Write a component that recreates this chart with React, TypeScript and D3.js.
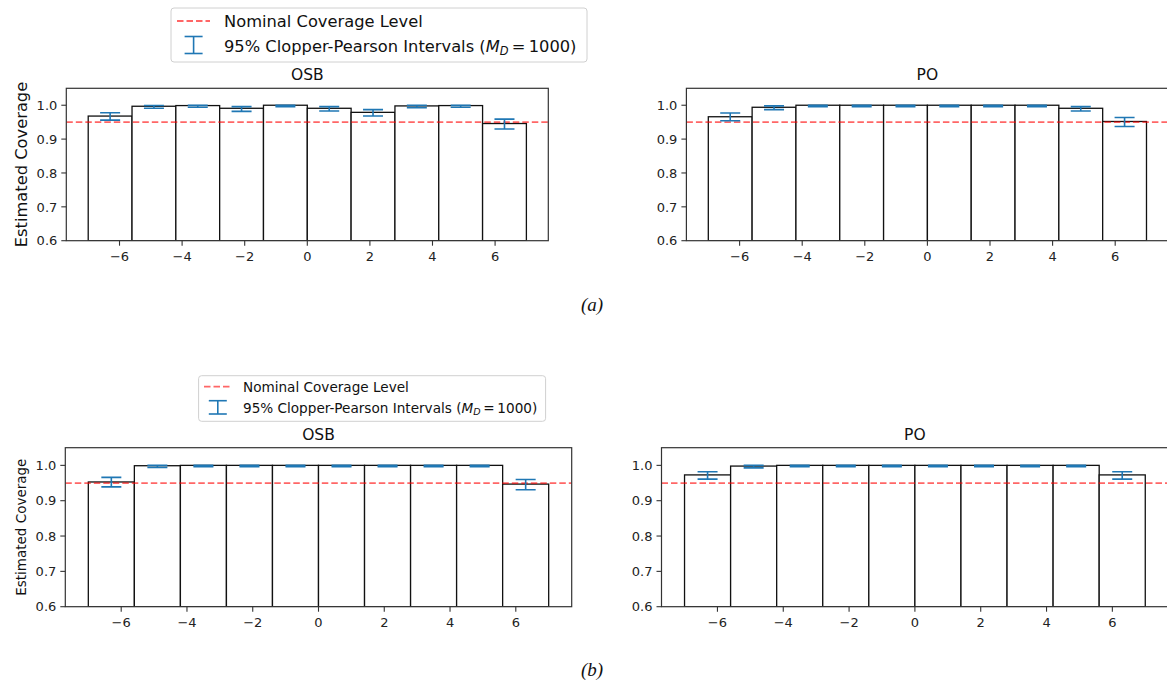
import React from "react";
import { scaleLinear } from "d3";

// bin edges of the histogram (shared by all four panels)
const binEdges = [-7, -5.6, -4.2, -2.8, -1.4, 0, 1.4, 2.8, 4.2, 5.6, 7];
const xTicks = [-6, -4, -2, 0, 2, 4, 6];
const yTicks = [0.6, 0.7, 0.8, 0.9, 1.0];
const nominal = 0.95;

// (a) OSB
const osbA = [0.968, 0.997, 0.999, 0.991, 1.0, 0.991, 0.979, 0.998, 0.999, 0.946];
const osbALow = [0.956, 0.991, 0.994, 0.982, 0.996, 0.983, 0.968, 0.993, 0.994, 0.930];
const osbAHigh = [0.978, 0.999, 1.0, 0.996, 1.0, 0.996, 0.987, 1.0, 1.0, 0.959];
// (a) PO
const poA = [0.966, 0.994, 1.0, 1.0, 1.0, 1.0, 1.0, 1.0, 0.991, 0.952];
const poALow = [0.954, 0.987, 0.996, 0.996, 0.996, 0.996, 0.996, 0.996, 0.983, 0.937];
const poAHigh = [0.977, 0.998, 1.0, 1.0, 1.0, 1.0, 1.0, 1.0, 0.996, 0.964];
// (b) OSB
const osbB = [0.953, 0.999, 1.0, 1.0, 1.0, 1.0, 1.0, 1.0, 1.0, 0.947];
const osbBLow = [0.939, 0.994, 0.996, 0.996, 0.996, 0.996, 0.996, 0.996, 0.996, 0.931];
const osbBHigh = [0.966, 1.0, 1.0, 1.0, 1.0, 1.0, 1.0, 1.0, 1.0, 0.960];
// (b) PO
const poB = [0.973, 0.998, 1.0, 1.0, 1.0, 1.0, 1.0, 1.0, 1.0, 0.973];
const poBLow = [0.961, 0.993, 0.996, 0.996, 0.996, 0.996, 0.996, 0.996, 0.996, 0.961];
const poBHigh = [0.982, 1.0, 1.0, 1.0, 1.0, 1.0, 1.0, 1.0, 1.0, 0.982];

const FONT = "DejaVu Sans, sans-serif";
const BLUE = "#1f77b4";

function Panel({ id, left, right, top, bottom, title, values, low, high, tickSize, ylabel, ylabelSize }) {
  const x = scaleLinear().domain([-7.7, 7.7]).range([left, right]);
  const y = scaleLinear().domain([0.6, 1.05]).range([bottom, top]);
  const capHalf = 10;
  return (
    <g>
      <defs>
        <clipPath id={id}>
          <rect x={left} y={top} width={right - left} height={bottom - top} />
        </clipPath>
      </defs>
      <text x={(left + right) / 2} y={top - 8} textAnchor="middle" fontSize={15.5} fill="#111">
        {title}
      </text>
      {ylabel && (
        <text
          transform={`translate(${left - 39},${(top + bottom) / 2}) rotate(-90)`}
          textAnchor="middle"
          fontSize={ylabelSize}
          fill="#111"
        >
          {ylabel}
        </text>
      )}
      <g clipPath={`url(#${id})`}>
        {values.map((v, i) => (
          <rect
            key={i}
            x={x(binEdges[i])}
            y={y(v)}
            width={x(binEdges[i + 1]) - x(binEdges[i])}
            height={y(0.6) - y(v)}
            fill="white"
            stroke="#111"
            strokeWidth={1.3}
          />
        ))}
        <line
          x1={left}
          x2={right}
          y1={y(nominal)}
          y2={y(nominal)}
          stroke="red"
          strokeOpacity={0.6}
          strokeWidth={1.8}
          strokeDasharray="6.5,3"
        />
        {values.map((v, i) => {
          const cx = x((binEdges[i] + binEdges[i + 1]) / 2);
          return (
            <g key={i} stroke={BLUE} strokeWidth={1.6}>
              <line x1={cx} x2={cx} y1={y(low[i])} y2={y(high[i])} />
              <line x1={cx - capHalf} x2={cx + capHalf} y1={y(low[i])} y2={y(low[i])} />
              <line x1={cx - capHalf} x2={cx + capHalf} y1={y(high[i])} y2={y(high[i])} />
            </g>
          );
        })}
      </g>
      <rect x={left} y={top} width={right - left} height={bottom - top} fill="none" stroke="#333" strokeWidth={1.2} />
      {yTicks.map((t) => (
        <g key={t} transform={`translate(${left},${y(t)})`}>
          <line x1={-5} x2={0} stroke="#333" strokeWidth={1.1} />
          <text x={-9} dy="0.36em" textAnchor="end" fontSize={tickSize} fill="#222">
            {t.toFixed(1)}
          </text>
        </g>
      ))}
      {xTicks.map((t) => (
        <g key={t} transform={`translate(${x(t)},${bottom})`}>
          <line y1={0} y2={5} stroke="#333" strokeWidth={1.1} />
          <text y={20} textAnchor="middle" fontSize={tickSize} fill="#222">
            {t < 0 ? `\u2212${Math.abs(t)}` : t}
          </text>
        </g>
      ))}
    </g>
  );
}

function Legend({ x0, y0, w, h, fontSize, textX, line1Y, line2Y, dashX1, dashX2, dashY, ebX, ebY1, ebY2 }) {
  return (
    <g>
      <rect x={x0} y={y0} width={w} height={h} rx={3} fill="white" stroke="#d0d0d0" strokeWidth={1} />
      <line x1={dashX1} x2={dashX2} y1={dashY} y2={dashY} stroke="red" strokeOpacity={0.6} strokeWidth={1.8} strokeDasharray="6.5,3" />
      <g stroke={BLUE} strokeWidth={1.6}>
        <line x1={ebX} x2={ebX} y1={ebY1} y2={ebY2} />
        <line x1={ebX - 9} x2={ebX + 9} y1={ebY1} y2={ebY1} />
        <line x1={ebX - 9} x2={ebX + 9} y1={ebY2} y2={ebY2} />
      </g>
      <text x={textX} y={line1Y} fontSize={fontSize} fill="#111">
        Nominal Coverage Level
      </text>
      <text x={textX} y={line2Y} fontSize={fontSize} fill="#111">
        95% Clopper-Pearson Intervals (
        <tspan fontStyle="italic">M</tspan>
        <tspan fontStyle="italic" fontSize={fontSize * 0.7} dy={fontSize * 0.2}>D</tspan>
        <tspan dy={-fontSize * 0.2}>{"\u2009=\u20091000)"}</tspan>
      </text>
    </g>
  );
}

export default function App() {
  return (
    <div style={{ position: "absolute", left: 0, top: 0 }}>
      <svg width={1167} height={688} style={{ display: "block", fontFamily: FONT }}>
        <rect width={1167} height={688} fill="white" />
        {/* figure (a) */}
        <Legend
          x0={171} y0={8} w={416} h={54} fontSize={16.3}
          textX={224} line1Y={27} line2Y={51.5}
          dashX1={177} dashX2={210} dashY={21}
          ebX={193.6} ebY1={36.5} ebY2={53.5}
        />
        <Panel
          id="ca1" left={66.3} right={548.3} top={88.3} bottom={240.7}
          title="OSB" values={osbA} low={osbALow} high={osbAHigh}
          tickSize={13} ylabel="Estimated Coverage" ylabelSize={16.3}
        />
        <Panel
          id="ca2" left={686.4} right={1168.4} top={88.3} bottom={240.7}
          title="PO" values={poA} low={poALow} high={poAHigh} tickSize={13}
        />
        <text x={592} y={311} textAnchor="middle" fontSize={19} fontStyle="italic" fontFamily="Liberation Serif, serif" fill="#111">
          (a)
        </text>
        {/* figure (b) */}
        <Legend
          x0={198.6} y0={375.7} w={347} h={45.6} fontSize={13.6}
          textX={243} line1Y={391.5} line2Y={412.5}
          dashX1={204} dashX2={231.5} dashY={386.7}
          ebX={217.8} ebY1={400.7} ebY2={414}
        />
        <Panel
          id="cb1" left={65.3} right={571.7} top={447.7} bottom={606.7}
          title="OSB" values={osbB} low={osbBLow} high={osbBHigh}
          tickSize={13} ylabel="Estimated Coverage" ylabelSize={13.5}
        />
        <Panel
          id="cb2" left={661.5} right={1168.3} top={447.7} bottom={606.7}
          title="PO" values={poB} low={poBLow} high={poBHigh} tickSize={13}
        />
        <text x={592} y={676} textAnchor="middle" fontSize={19} fontStyle="italic" fontFamily="Liberation Serif, serif" fill="#111">
          (b)
        </text>
      </svg>
    </div>
  );
}
